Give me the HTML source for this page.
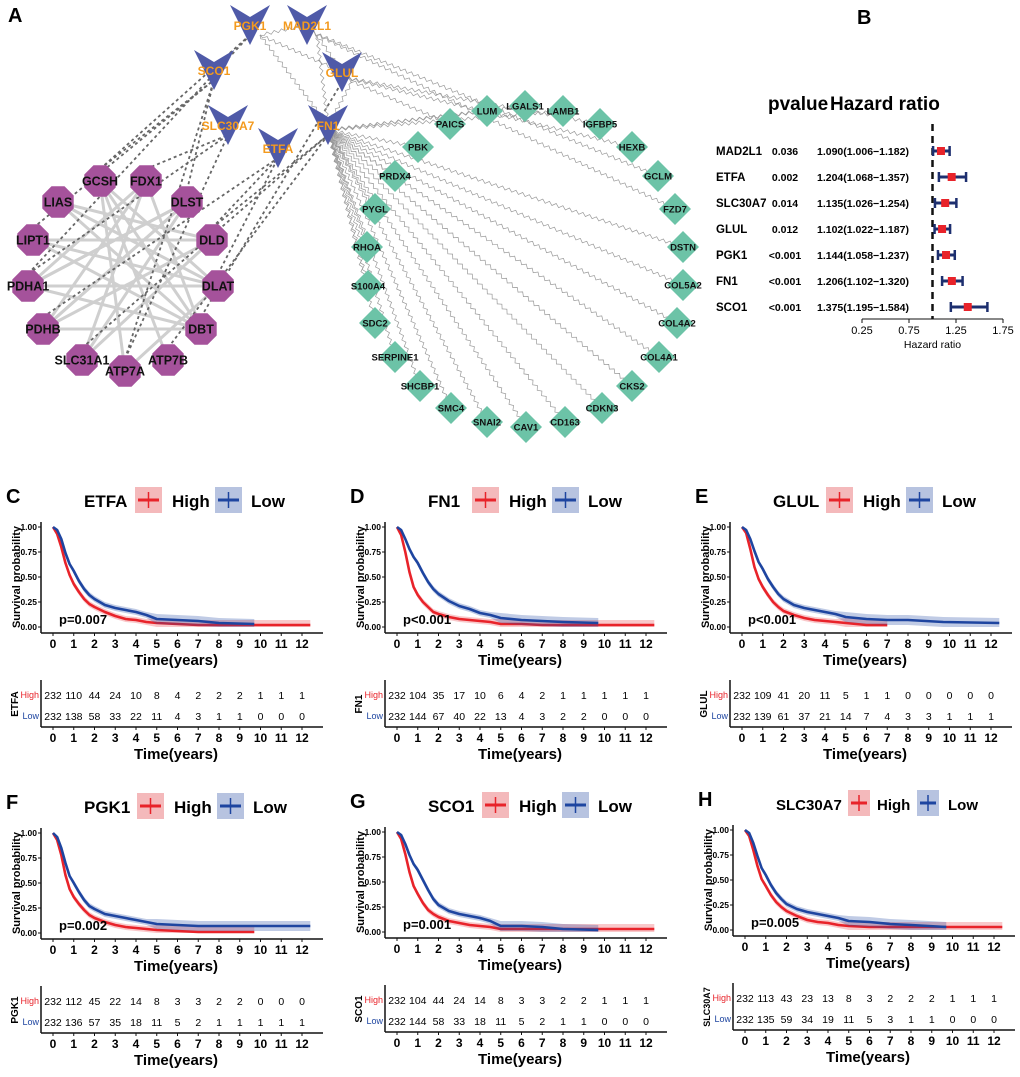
<!DOCTYPE html>
<html><head><meta charset="utf-8">
<style>
html,body{margin:0;padding:0;background:#fff;}
svg{display:block;font-family:"Liberation Sans",Arial,sans-serif;}
</style></head>
<body>
<svg id="fig" width="1020" height="1077" viewBox="0 0 1020 1077" xmlns="http://www.w3.org/2000/svg">
<g id="net"></g>
<g id="forest"></g>
<g id="km"></g>
</svg>
<script>
const NS="http://www.w3.org/2000/svg";
function mk(tag,attrs,parent,text){const e=document.createElementNS(NS,tag);for(const k in attrs)e.setAttribute(k,attrs[k]);if(text!==undefined)e.textContent=text;parent.appendChild(e);return e;}

/* ---------- Panel A: network ---------- */
const hubNames=["PGK1","MAD2L1","SCO1","GLUL","SLC30A7","FN1","ETFA"];
const hubX=[250,307,214,342,228,328,278];
const hubY=[5,5,50,52,105,105,128];
const octNames=["GCSH","FDX1","LIAS","DLST","LIPT1","DLD","PDHA1","DLAT","PDHB","DBT","SLC31A1","ATP7B","ATP7A"];
const octX=[100,146,58,187,33,212,28,218,43,201,82,168,125];
const octY=[181,181,202,202,240,240,286,286,329,329,360,360,371];
const diaNames=["LUM","LGALS1","LAMB1","IGFBP5","HEXB","GCLM","FZD7","DSTN","COL5A2","COL4A2","COL4A1","CKS2","CDKN3","CD163","CAV1","SNAI2","SMC4","SHCBP1","SERPINE1","SDC2","S100A4","RHOA","PYGL","PRDX4","PBK","PAICS"];
const diaX=[487,525,563,600,632,658,675,683,683,677,659,632,602,565,526,487,451,420,395,375,368,367,375,395,418,450];
const diaY=[111,106,111,124,147,176,209,247,285,323,357,386,408,422,427,422,408,386,357,323,286,247,209,176,147,124];
const octEdges=[[0,7],[0,9],[1,8],[1,6],[2,5],[2,9],[3,8],[3,6],[4,5],[4,7],[6,7],[6,9],[8,9],[8,5],[0,11],[1,10],[3,10],[5,10],[7,12],[2,7],[4,9],[6,3],[8,3],[0,12],[1,9]];
const dashEdges=[[0,2],[0,0],[1,4],[3,2],[5,6],[5,5],[6,4],[7,6],[9,3],[12,4],[12,2],[8,6],[10,5],[6,0],[4,2],[11,5]];
const net=document.getElementById("net");
const wave=(x1,y1,x2,y2)=>{const dx=x2-x1,dy=y2-y1,L=Math.hypot(dx,dy),n=Math.floor(L/3.5);const ux=dx/L,uy=dy/L,px=-uy,py=ux;let d=`M${x1},${y1}`;for(let i=1;i<=n;i++){const t=i/n,a=(i%2?1.6:-1.6);d+=` L${(x1+dx*t+px*a).toFixed(1)},${(y1+dy*t+py*a).toFixed(1)}`;}return d;};
const ge=mk("g",{},net);
octEdges.forEach(([a,b])=>{const l=mk("line",{x1:octX[a],y1:octY[a],x2:octX[b],y2:octY[b],stroke:"#cfcfcf","stroke-width":3},ge);

});
dashEdges.forEach(([a,h])=>{const l=mk("line",{x1:octX[a],y1:octY[a]-12,x2:hubX[h],y2:hubY[h]+30,stroke:"#666","stroke-width":1.8,"stroke-dasharray":"3 3"},ge);

});
const hubFor=[5,5,5,3,3,1,1,5,5,5,5,5,5,5,5,5,5,5,5,5,5,5,5,5,5,3];
diaNames.forEach((n,i)=>{const h=hubFor[i];const p=mk("path",{d:wave(hubX[h],hubY[h]+25,diaX[i],diaY[i]),stroke:"#999","stroke-width":0.7,fill:"none"},ge);

});
[[0,1],[0,3],[1,3],[3,5],[1,5],[0,5]].forEach(([a,b])=>{const p=mk("path",{d:wave(hubX[a]+10,hubY[a]+30,hubX[b],hubY[b]+20),stroke:"#999","stroke-width":0.7,fill:"none"},ge);

});
octNames.forEach((n,i)=>{const g=mk("g",{},net);


const r=17,pts=[];for(let k=0;k<8;k++){const a=Math.PI/8+k*Math.PI/4;pts.push((octX[i]+r*Math.cos(a)).toFixed(1)+","+(octY[i]+r*Math.sin(a)).toFixed(1));}
mk("polygon",{points:pts.join(" "),fill:"#a5529b"},g);
mk("text",{x:octX[i],y:octY[i]+4.5,"text-anchor":"middle","font-size":12.5,"font-weight":"bold",fill:"#111"},g,n);});
diaNames.forEach((n,i)=>{const g=mk("g",{},net);


const x=diaX[i],y=diaY[i],r=16;
mk("polygon",{points:`${x},${y-r} ${x+r},${y} ${x},${y+r} ${x-r},${y}`,fill:"#6cc3a7"},g);
mk("text",{x:x,y:y+3.5,"text-anchor":"middle","font-size":9.5,"font-weight":"bold",fill:"#111"},g,n);});
hubNames.forEach((n,i)=>{const g=mk("g",{},net);


const x=hubX[i],y=hubY[i];
mk("polygon",{points:`${x-20},${y} ${x},${y+12} ${x+20},${y} ${x},${y+40}`,fill:"#4f5aa8"},g);
mk("text",{x:x,y:y+25,"text-anchor":"middle","font-size":12,"font-weight":"bold",fill:"#f39a1e"},g,n);});
const la=mk("text",{x:8,y:22,"font-size":20,"font-weight":"bold"},net,"A");



/* ---------- Panel B: forest ---------- */
const fGenes=["MAD2L1","ETFA","SLC30A7","GLUL","PGK1","FN1","SCO1"];
const fP=["0.036","0.002","0.014","0.012","<0.001","<0.001","<0.001"];
const fHR=[1.090,1.204,1.135,1.102,1.144,1.206,1.375];
const fLo=[1.006,1.068,1.026,1.022,1.058,1.102,1.195];
const fHi=[1.182,1.357,1.254,1.187,1.237,1.320,1.584];
const fTicks=[0.25,0.75,1.25,1.75];
const fo=document.getElementById("forest");
const fx=v=>862+(v-0.25)*94;
const rowY=i=>151+i*26;
mk("text",{x:857,y:24,"font-size":20,"font-weight":"bold"},fo,"B");
mk("text",{x:768,y:110,"font-size":19,"font-weight":"bold"},fo,"pvalue");
mk("text",{x:830,y:110,"font-size":19,"font-weight":"bold"},fo,"Hazard ratio");
mk("line",{x1:fx(1),y1:124,x2:fx(1),y2:319,stroke:"#111","stroke-width":2.5,"stroke-dasharray":"7 5"},fo);
fGenes.forEach((g,i)=>{const y=rowY(i);
const r=mk("g",{},fo);


mk("text",{x:716,y:y+4,"font-size":11.5,"font-weight":"bold"},r,g);
mk("text",{x:785,y:y+4,"text-anchor":"middle","font-size":10.5,"font-weight":"bold"},r,fP[i]);
mk("text",{x:817,y:y+4,"font-size":10.5,"font-weight":"bold"},r,fHR[i].toFixed(3)+"("+fLo[i].toFixed(3)+"\u2212"+fHi[i].toFixed(3)+")");
mk("line",{x1:fx(fLo[i]),y1:y,x2:fx(fHi[i]),y2:y,stroke:"#1d2f6f","stroke-width":3},r);
mk("line",{x1:fx(fLo[i]),y1:y-5,x2:fx(fLo[i]),y2:y+5,stroke:"#1d2f6f","stroke-width":2.5},r);
mk("line",{x1:fx(fHi[i]),y1:y-5,x2:fx(fHi[i]),y2:y+5,stroke:"#1d2f6f","stroke-width":2.5},r);
mk("rect",{x:fx(fHR[i])-4,y:y-4,width:8,height:8,fill:"#e8232a"},r);});
mk("line",{x1:fx(0.25),y1:319,x2:fx(1.75),y2:319,stroke:"#111","stroke-width":1},fo);
fTicks.forEach(t=>{mk("line",{x1:fx(t),y1:319,x2:fx(t),y2:323,stroke:"#111"},fo);
const tl=mk("text",{x:fx(t),y:334,"text-anchor":"middle","font-size":11},fo,t.toFixed(2));

});
mk("text",{x:fx(1),y:348,"text-anchor":"middle","font-size":10.5},fo,"Hazard ratio");

/* ---------- KM panels ---------- */
const kmTimes=[0,0.2,0.4,0.6,0.8,1,1.25,1.5,1.75,2,2.5,3,3.5,4,4.5,5,6,7,8,9.7,12.4];
const kmGenes=["ETFA","FN1","GLUL","PGK1","SCO1","SLC30A7"];
const kmLetters=["C","D","E","F","G","H"];
const kmPvals=["p=0.007","p<0.001","p<0.001","p=0.002","p=0.001","p=0.005"];
const highETFA=[1,.93,.8,.64,.52,.43,.35,.28,.23,.2,.15,.11,.08,.07,.05,.04,.03,.02,.02,.02,.02];
const lowETFA=[1,.97,.88,.74,.63,.56,.46,.38,.32,.28,.22,.19,.17,.15,.12,.08,.07,.06,.04,.03,null];
const highFN1=[1,.92,.75,.55,.4,.32,.25,.2,.15,.13,.1,.08,.07,.06,.05,.03,.03,.02,.02,.02,.02];
const lowFN1=[1,.97,.88,.78,.7,.64,.54,.45,.38,.33,.26,.21,.18,.14,.12,.09,.07,.06,.05,.04,null];
const highGLUL=[1,.94,.78,.6,.48,.4,.32,.25,.2,.16,.12,.09,.07,.06,.05,.04,.02,.02,null,null,null];
const lowGLUL=[1,.97,.88,.76,.65,.58,.48,.4,.33,.28,.22,.19,.17,.15,.13,.1,.08,.07,.07,.05,.04];
const highPGK1=[1,.93,.78,.58,.44,.36,.29,.23,.18,.15,.11,.08,.06,.05,.04,.03,.02,.01,.01,.01,null];
const lowPGK1=[1,.96,.85,.7,.57,.5,.41,.33,.27,.24,.19,.17,.15,.13,.11,.09,.08,.07,.07,.07,.07];
const highSCO1=[1,.93,.78,.6,.46,.38,.29,.22,.18,.15,.11,.09,.07,.06,.05,.03,.03,.03,.03,.03,.03];
const lowSCO1=[1,.97,.88,.77,.68,.62,.52,.42,.33,.27,.21,.18,.16,.14,.11,.06,.06,.05,.03,.02,null];
const highSLC=[1,.94,.8,.64,.51,.44,.35,.28,.23,.19,.14,.1,.08,.07,.05,.04,.03,.03,.03,.03,.03];
const lowSLC=[1,.97,.87,.74,.62,.55,.45,.37,.31,.26,.21,.18,.16,.14,.12,.09,.08,.06,.05,.03,null];
const kmHigh=[highETFA,highFN1,highGLUL,highPGK1,highSCO1,highSLC];
const kmLow=[lowETFA,lowFN1,lowGLUL,lowPGK1,lowSCO1,lowSLC];
const riskHigh=[[232,110,44,24,10,8,4,2,2,2,1,1,1],[232,104,35,17,10,6,4,2,1,1,1,1,1],[232,109,41,20,11,5,1,1,0,0,0,0,0],[232,112,45,22,14,8,3,3,2,2,0,0,0],[232,104,44,24,14,8,3,3,2,2,1,1,1],[232,113,43,23,13,8,3,2,2,2,1,1,1]];
const riskLow=[[232,138,58,33,22,11,4,3,1,1,0,0,0],[232,144,67,40,22,13,4,3,2,2,0,0,0],[232,139,61,37,21,14,7,4,3,3,1,1,1],[232,136,57,35,18,11,5,2,1,1,1,1,1],[232,144,58,33,18,11,5,2,1,1,0,0,0],[232,135,59,34,19,11,5,3,1,1,0,0,0]];
const yTicks=[0,0.25,0.5,0.75,1];
const xTicks=[0,1,2,3,4,5,6,7,8,9,10,11,12];
const offs=[[0,0],[344,0],[689,0],[0,306],[344,305],[692,303]];
const legBox=[135,128,137,137,138,156];
const km=document.getElementById("km");
kmGenes.forEach((gene,p)=>{
const [ox,oy]=offs[p];
const g=mk("g",{transform:`translate(${ox},${oy})`},km);


const X=t=>53+t*20.75, Y=s=>627-s*100;
mk("text",{x:6,y:503,"font-size":20,"font-weight":"bold"},g,kmLetters[p]);
// legend
const lg=mk("g",{},g);


const small=gene.length>5;
const fs=small?15:17, sp=small?[29,69,100]:[37,80,116], bw=small?22:27;
mk("text",{x:84,y:507,"font-size":fs,"font-weight":"bold"},lg,gene);
const bx=legBox[p];
mk("rect",{x:bx,y:487,width:bw,height:26,fill:"#f4b9bb"},lg);
mk("line",{x1:bx+3,y1:500,x2:bx+bw-3,y2:500,stroke:"#e8232a","stroke-width":3},lg);
mk("line",{x1:bx+bw/2,y1:492,x2:bx+bw/2,y2:508,stroke:"#e8232a","stroke-width":1.5},lg);
mk("text",{x:bx+sp[0],y:507,"font-size":fs,"font-weight":"bold"},lg,"High");
mk("rect",{x:bx+sp[1],y:487,width:bw,height:26,fill:"#b7c3e0"},lg);
mk("line",{x1:bx+sp[1]+3,y1:500,x2:bx+sp[1]+bw-3,y2:500,stroke:"#1e45a0","stroke-width":3},lg);
mk("line",{x1:bx+sp[1]+bw/2,y1:492,x2:bx+sp[1]+bw/2,y2:508,stroke:"#1e45a0","stroke-width":1.5},lg);
mk("text",{x:bx+sp[2],y:507,"font-size":fs,"font-weight":"bold"},lg,"Low");
// axes
mk("line",{x1:41,y1:522,x2:41,y2:633,stroke:"#111","stroke-width":1.5},g);
mk("line",{x1:41,y1:633,x2:323,y2:633,stroke:"#111","stroke-width":1.5},g);
yTicks.forEach(v=>{mk("line",{x1:38,y1:Y(v),x2:41,y2:Y(v),stroke:"#111"},g);
const t=mk("text",{x:37,y:Y(v)+3,"text-anchor":"end","font-size":8.5,"font-weight":"bold"},g,v.toFixed(2));

});
xTicks.forEach(v=>{mk("line",{x1:X(v),y1:633,x2:X(v),y2:636,stroke:"#111"},g);
const t=mk("text",{x:X(v),y:648,"text-anchor":"middle","font-size":12,"font-weight":"bold"},g,v);


mk("line",{x1:X(v),y1:727,x2:X(v),y2:730,stroke:"#111"},g);
mk("text",{x:X(v),y:742,"text-anchor":"middle","font-size":12,"font-weight":"bold"},g,v);});
mk("text",{x:20,y:577,"text-anchor":"middle","font-size":11,"font-weight":"bold",transform:"rotate(-90 20 577)"},g,"Survival probability");
mk("text",{x:176,y:665,"text-anchor":"middle","font-size":15,"font-weight":"bold"},g,"Time(years)");
mk("text",{x:176,y:759,"text-anchor":"middle","font-size":15,"font-weight":"bold"},g,"Time(years)");
// curves
[[kmHigh[p],"#e8232a","rgba(232,35,42,0.25)","high"],[kmLow[p],"#1e45a0","rgba(30,69,160,0.28)","low"]].forEach(([vals,col,fill,nm])=>{
let up=[],dn=[],d="";
for(let i=0;i<kmTimes.length;i++){if(vals[i]===null)break;
const t=kmTimes[i],v=vals[i];
const w=t>=5?0.05:(t>=1?0.03:0.015);
d+=(i===0?`M${X(t)},${Y(v)}`:` L${X(t)},${Y(v)}`);
up.push(`${X(t)},${Y(Math.min(1,v+w))}`);
dn.unshift(`${X(t)},${Y(Math.max(0,v-w))}`);}
const band=mk("polygon",{points:up.concat(dn).join(" "),fill:fill},g);


const path=mk("path",{d:d,stroke:col,"stroke-width":2.6,fill:"none","stroke-linejoin":"round"},g);

});
mk("text",{x:59,y:624,"font-size":13,"font-weight":"bold"},g,kmPvals[p]);
// risk table
mk("line",{x1:41,y1:680,x2:41,y2:727,stroke:"#111","stroke-width":1.5},g);
mk("line",{x1:41,y1:727,x2:323,y2:727,stroke:"#111","stroke-width":1.5},g);
mk("text",{x:18,y:704,"text-anchor":"middle","font-size":small?9:10,"font-weight":"bold",transform:"rotate(-90 18 704)"},g,gene);
mk("text",{x:39,y:698,"text-anchor":"end","font-size":9,fill:"#e8232a"},g,"High");
mk("text",{x:39,y:719,"text-anchor":"end","font-size":9,fill:"#1e45a0"},g,"Low");
xTicks.forEach((v,i)=>{
const a=mk("text",{x:X(v),y:699,"text-anchor":"middle","font-size":10.5},g,riskHigh[p][i]);


const b=mk("text",{x:X(v),y:720,"text-anchor":"middle","font-size":10.5},g,riskLow[p][i]);

});
});
</script>
</body></html>
